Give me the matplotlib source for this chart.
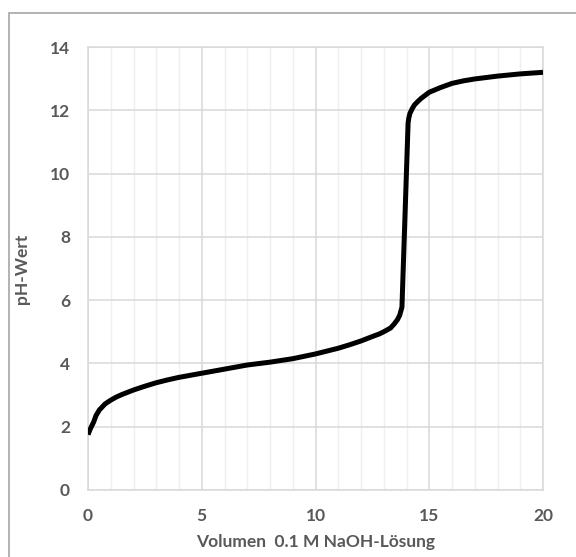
import matplotlib
matplotlib.use("Agg")
import matplotlib.pyplot as plt
from matplotlib.patches import Rectangle
from matplotlib.ticker import MultipleLocator

# Titrationskurve: Volumen NaOH (mL) gegen pH
volumen = [0, 0.1, 0.25, 0.35, 0.5, 0.75, 1, 1.25, 1.5, 2, 2.5, 3, 3.5, 4, 5,
           6, 7, 8, 9, 10, 11, 11.5, 12, 12.5, 12.8, 13, 13.3, 13.45, 13.6,
           13.7, 13.8, 14.07, 14.1, 14.15, 14.25, 14.35, 14.5, 14.65, 15,
           15.5, 16, 16.5, 17, 18, 19, 20]
ph_wert = [1.75, 1.93, 2.15, 2.35, 2.53, 2.72, 2.84, 2.94, 3.02, 3.16, 3.28,
           3.39, 3.48, 3.56, 3.69, 3.82, 3.95, 4.04, 4.15, 4.30, 4.48, 4.59,
           4.71, 4.85, 4.93, 5.00, 5.12, 5.24, 5.38, 5.52, 5.78, 11.6, 11.75,
           11.9, 12.05, 12.17, 12.28, 12.38, 12.57, 12.72, 12.85, 12.93,
           12.99, 13.08, 13.15, 13.2]

x_label = "Volumen  0.1 M NaOH-Lösung"
y_label = "pH-Wert"

text_grau = "#595959"
plt.rcParams["font.family"] = ["Lato", "DejaVu Sans"]

fig = plt.figure(figsize=(5.76, 5.57), dpi=100)
ax = fig.add_axes([88 / 576, 1 - 490 / 557, 455 / 576, 443 / 557])

ax.plot(volumen, ph_wert, color="black", lw=3.6, solid_capstyle="butt",
        solid_joinstyle="round", zorder=3)

ax.set_xlim(0, 20)
ax.set_ylim(0, 14)
ax.xaxis.set_major_locator(MultipleLocator(5))
ax.xaxis.set_minor_locator(MultipleLocator(1))
ax.yaxis.set_major_locator(MultipleLocator(2))

ax.grid(which="major", color="#d9d9d9", lw=1.1)
ax.grid(which="minor", axis="x", color="#efefef", lw=1.0)
ax.set_axisbelow(True)
for s in ax.spines.values():
    s.set_color("#d9d9d9")
    s.set_linewidth(1.1)

ax.tick_params(which="both", length=0)
ax.tick_params(axis="x", pad=13, labelsize=12.5, labelcolor=text_grau)
ax.tick_params(axis="y", pad=13, labelsize=12.5, labelcolor=text_grau)
for lab in ax.get_xticklabels() + ax.get_yticklabels():
    lab.set_fontweight("bold")

ax.set_xlabel(x_label, fontsize=12.5, fontweight="bold", color=text_grau,
              labelpad=7)
ax.set_ylabel(y_label, fontsize=12.5, fontweight="bold", color=text_grau,
              labelpad=14)

# Rahmen des Diagrammbereichs (rechts und unten abgeschnitten)
fig.patches.append(Rectangle((9 / 576, -0.1), 1.0, 1 - 13 / 557 + 0.1,
                             transform=fig.transFigure, fill=False,
                             edgecolor="#a6a6a6", lw=1.2))

fig.savefig("out.png", dpi=100)
